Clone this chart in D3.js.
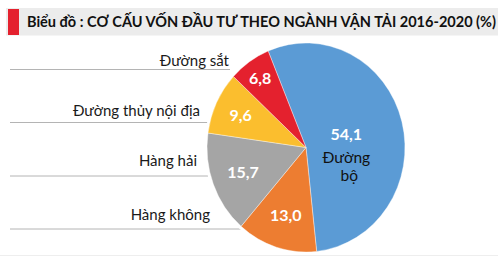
<!DOCTYPE html>
<html>
<head>
<meta charset="utf-8">
<script src="https://cdn.jsdelivr.net/npm/d3@7"></script>
<style>
  html, body { margin: 0; padding: 0; background: #fff; }
  svg { display: block; }
</style>
</head>
<body>
<div id="chart"></div>
<script>
// data
var sectors = ["Đường bộ", "Hàng không", "Hàng hải", "Đường thủy nội địa", "Đường sắt"];
var shares = [54.1, 13.0, 15.7, 9.6, 6.8];
var sliceColors = ["#5b9bd5", "#ed7d31", "#a5a5a5", "#fbbe2e", "#e4212e"];
var titleText = "Biểu đồ : CƠ CẤU VỐN ĐẦU TƯ THEO NGÀNH VẬN TẢI 2016-2020 (%)";

var width = 498, height = 257;

var svg = d3.select("#chart")
    .append("svg")
    .attr("width", width)
    .attr("height", height);

// title band
svg.append("rect")
    .attr("x", 6).attr("y", 8)
    .attr("width", width - 6).attr("height", 27.5)
    .attr("fill", "#ececec");

svg.append("rect")
    .attr("x", 8).attr("y", 9)
    .attr("width", 11).attr("height", 26)
    .attr("fill", "#e4212e");

svg.append("text")
    .attr("x", 27)
    .attr("y", 27)
    .attr("textLength", 469)
    .attr("lengthAdjust", "spacingAndGlyphs")
    .style("font-family", "Lato, 'Open Sans', sans-serif")
    .style("font-weight", "bold")
    .style("font-size", "14.5px")
    .style("fill", "#111")
    .text(titleText);

// faint bottom rule
svg.append("line")
    .attr("x1", 0).attr("x2", width)
    .attr("y1", 255.5).attr("y2", 255.5)
    .attr("stroke", "#eeeeee");

// legend (all sectors except the big one, top to bottom)
var legendNames = sectors.slice(1).reverse();
var legendLayout = [
    { tx: 229, ty: 66, ly: 69.5, lx2: 230 },
    { tx: 200, ty: 116, ly: 122.5, lx2: 208 },
    { tx: 197, ty: 166, ly: 176, lx2: 208 },
    { tx: 210, ty: 220, ly: 229, lx2: 241 }
];

var legend = svg.selectAll(".legend")
    .data(legendNames)
    .enter()
    .append("g")
    .attr("class", "legend");

legend.append("line")
    .attr("x1", 10)
    .attr("x2", (d, i) => legendLayout[i].lx2)
    .attr("y1", (d, i) => legendLayout[i].ly)
    .attr("y2", (d, i) => legendLayout[i].ly)
    .attr("stroke", "#b4b4b4")
    .attr("stroke-width", 1);

legend.append("text")
    .attr("x", (d, i) => legendLayout[i].tx)
    .attr("y", (d, i) => legendLayout[i].ty)
    .style("text-anchor", "end")
    .style("font-family", "Lato, 'Open Sans', sans-serif")
    .style("font-size", "15px")
    .style("fill", "#1a1a1a")
    .text(d => d);

// pie (slightly squeezed horizontally like the original)
var cx = 306, cy = 147.5, radius = 104.5, sx = 0.947;
var start = -22.5 * Math.PI / 180;

var pie = d3.pie()
    .sort(null)
    .value(d => d)
    .startAngle(start)
    .endAngle(start + 2 * Math.PI);

var arcs = pie(shares);

var arc = d3.arc().innerRadius(0).outerRadius(radius);

var pieG = svg.append("g")
    .attr("transform", `translate(${cx}, ${cy}) scale(${sx}, 1)`);

pieG.append("circle")
    .attr("r", radius + 3)
    .attr("fill", "#fff");

pieG.selectAll(".slice")
    .data(arcs)
    .enter()
    .append("path")
    .attr("class", "slice")
    .attr("d", arc)
    .attr("fill", (d, i) => sliceColors[i])
    .attr("stroke", "#fff")
    .attr("stroke-width", 0.4);

// value labels
var fmt = v => d3.format(".1f")(v).replace(".", ",");

function labelRadius(v) {
    if (v > 50) return 0.42;
    if (v < 8) return 0.81;
    if (v < 11) return 0.73;
    return 0.68;
}

function labelPos(d) {
    var r = radius * labelRadius(d.value);
    var c = d3.arc().innerRadius(r).outerRadius(r).centroid(d);
    return [cx + c[0] * sx, cy + c[1]];
}

svg.selectAll(".val")
    .data(arcs)
    .enter()
    .append("text")
    .attr("class", "val")
    .attr("x", d => labelPos(d)[0])
    .attr("y", d => labelPos(d)[1] + (d.value > 50 ? 3.5 : 6))
    .style("text-anchor", "middle")
    .style("font-family", "Lato, 'Open Sans', sans-serif")
    .style("font-weight", "bold")
    .style("font-size", "16px")
    .style("fill", "#fff")
    .text(d => fmt(d.value));

// name of the big slice under its value
var big = arcs[0];
var bp = labelPos(big);
var nameParts = sectors[0].split(" ");
svg.selectAll(".bigname")
    .data(nameParts)
    .enter()
    .append("text")
    .attr("class", "bigname")
    .attr("x", (d, i) => bp[0] + (i === 1 ? 3 : 0))
    .attr("y", (d, i) => bp[1] + 26 + i * 18.5)
    .style("text-anchor", "middle")
    .style("font-family", "Lato, 'Open Sans', sans-serif")
    .style("font-size", "15.5px")
    .style("fill", "#111")
    .text(d => d);
</script>
</body>
</html>
